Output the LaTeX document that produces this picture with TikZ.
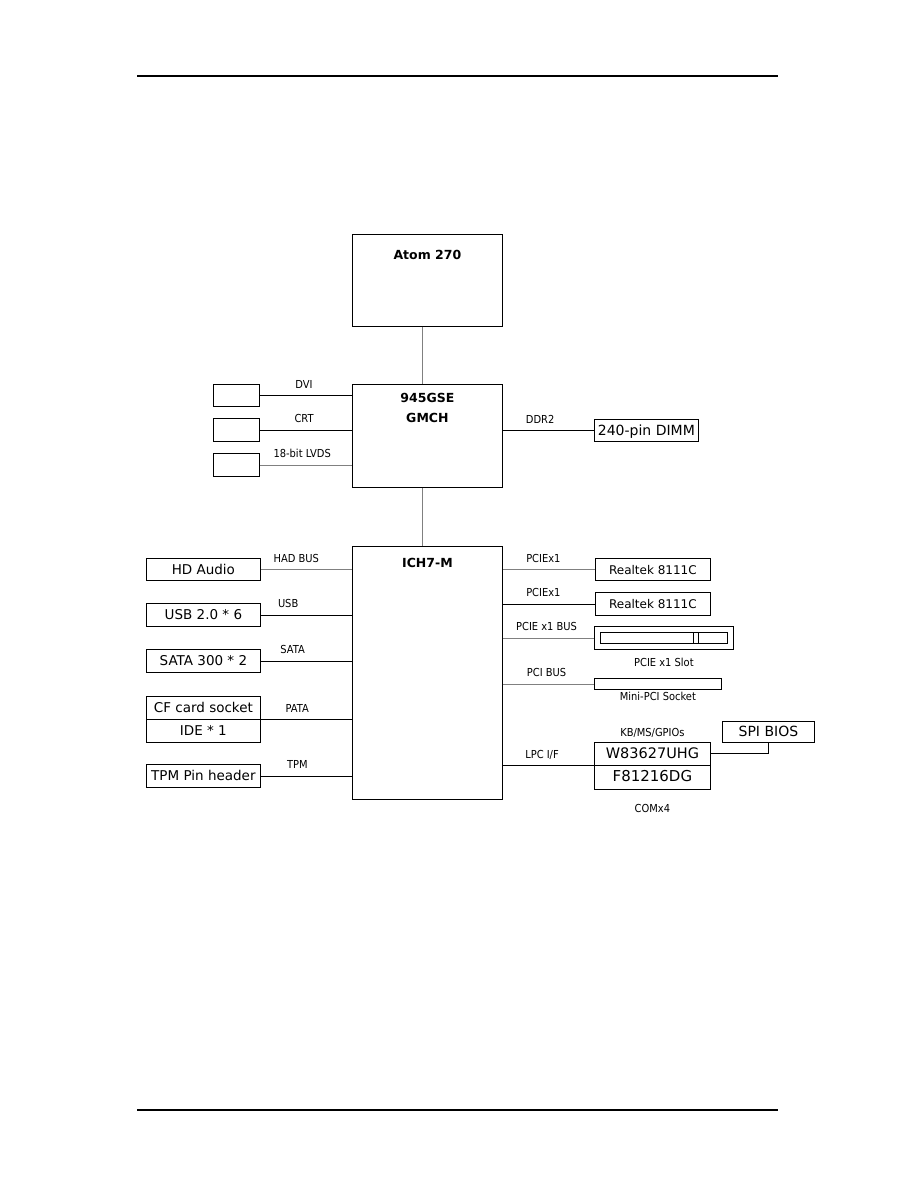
\documentclass[tikz,border=0pt]{standalone}
\usepackage{fontspec}
\setmainfont{DejaVu Sans}
\newfontfamily\narrowfont{DejaVu Sans}[FakeStretch=0.9]
\usetikzlibrary{positioning, calc}

\tikzset{
  box/.style={draw, line width=0.8pt, inner sep=0pt, anchor=north west,
    font=\fontsize{13.5}{16}\selectfont, text height=9.8pt, text depth=0pt},
  title/.style={font=\bfseries\fontsize{12.5}{15}\selectfont, inner sep=0pt,
    text height=9.1pt, text depth=0pt, anchor=north},
  tag/.style={font=\narrowfont\fontsize{11}{13}\selectfont, inner sep=0pt,
    text height=8pt, text depth=0pt, text=black},
  buslbl/.style={tag, anchor=base, yshift=7pt},
  wire/.style={line width=0.8pt, gray},
  link/.style={line width=0.8pt, black}
}

\begin{document}
\begin{tikzpicture}[x=1pt, y=-1pt]
    \useasboundingbox (0,0) rectangle (918,1188);

    % page rules
    \draw[line width=2pt] (137,76.5) -- (778,76.5);
    \draw[line width=2pt] (137,1110) -- (778,1110);

    % chips
    \node[box, minimum width=150pt, minimum height=92pt,
          label={[title, yshift=-16pt]north:Atom 270}] (cpu) at (352,234) {};
    \node[box, minimum width=150pt, minimum height=103pt,
          label={[title, yshift=-9pt]north:945GSE},
          label={[title, yshift=-29pt]north:GMCH}] (gmch) at (352,384) {};
    \node[box, minimum width=150pt, minimum height=253pt,
          label={[title, yshift=-12.5pt]north:ICH7-M}] (ich) at (352,546) {};

    % chip to chip, off centre at x=422
    \coordinate (fsb) at (422,0);
    \draw[wire] (cpu.south -| fsb) -- (gmch.north -| fsb);
    \draw[wire] (gmch.south -| fsb) -- (ich.north -| fsb);

    % display outputs
    \node[box, minimum width=46pt, minimum height=22pt] (dvi)  at (213,384) {};
    \node[box, minimum width=46pt, minimum height=23pt] (crt)  at (213,418) {};
    \node[box, minimum width=46pt, minimum height=23pt] (lvds) at (213,453) {};
    \draw[link] (dvi.east)  -- (dvi.east -| gmch.west)  node[buslbl, pos=.48] {DVI};
    \draw[link] (crt.east)  -- (crt.east -| gmch.west)  node[buslbl, pos=.48] {CRT};
    \draw[wire] (lvds.east) -- (lvds.east -| gmch.west) node[buslbl, pos=.46] {18-bit LVDS};

    % memory
    \node[box, minimum width=104pt, minimum height=22pt,
          font=\fontsize{14}{16}\selectfont] (dimm) at (594,419) {240-pin DIMM};
    \draw[link] (gmch.east |- dimm) -- (dimm.west) node[buslbl, pos=.41] {DDR2};

    % left side of ICH
    \node[box, minimum width=114pt, minimum height=22pt]   (hda)  at (146,558)   {HD Audio};
    \node[box, minimum width=114pt, minimum height=23pt]   (usb)  at (146,603)   {USB 2.0 * 6};
    \node[box, minimum width=114pt, minimum height=23pt]   (sata) at (146,649)   {SATA 300 * 2};
    \node[box, minimum width=114pt, minimum height=22.5pt] (cf)   at (146,696)   {CF card socket};
    \node[box, minimum width=114pt, minimum height=23pt]   (ide)  at (146,718.5) {IDE * 1};
    \node[box, minimum width=114pt, minimum height=23pt]   (tpm)  at (146,764)   {TPM Pin header};
    \draw[wire] (hda.east)  -- (hda.east -| ich.west)  node[buslbl, pos=.39] {HAD BUS};
    \draw[link] (usb.east)  -- (usb.east -| ich.west)  node[buslbl, pos=.30] {USB};
    \draw[link] (sata.east) -- (sata.east -| ich.west) node[buslbl, pos=.35] {SATA};
    \draw[link] (cf.south east) -- (cf.south east -| ich.west) node[buslbl, pos=.40] {PATA};
    \draw[link] (tpm.east)  -- (tpm.east -| ich.west)  node[buslbl, pos=.40] {TPM};

    % right side of ICH
    \node[box, minimum width=115pt, minimum height=22pt,
          font=\fontsize{12}{14}\selectfont] (lan1) at (595,558) {Realtek 8111C};
    \node[box, minimum width=115pt, minimum height=23pt,
          font=\fontsize{12}{14}\selectfont] (lan2) at (595,592) {Realtek 8111C};
    \node[box, minimum width=139pt, minimum height=23pt,
          label={[tag, anchor=north, yshift=-8pt]south:PCIE x1 Slot}] (slot) at (594,626) {};
    \draw[line width=0.8pt] (600,632) rectangle (727,643);
    \draw[line width=0.8pt] (693,632) -- (693,643) (698,632) -- (698,643);
    \node[box, minimum width=127pt, minimum height=11pt,
          label={[tag, anchor=north, yshift=-2.7pt]south:Mini-PCI Socket}] (minipci) at (594,678) {};
    \node[box, minimum width=116pt, minimum height=22.5pt,
          font=\fontsize{14.5}{16}\selectfont,
          label={[tag, anchor=base, yshift=6pt]north:KB/MS/GPIOs}] (sio) at (594,742) {W83627UHG};
    \node[box, minimum width=116pt, minimum height=24pt,
          font=\fontsize{15}{17}\selectfont,
          label={[tag, anchor=north, yshift=-15pt]south:COMx4}] (uart) at (594,764.5) {F81216DG};
    \node[box, minimum width=92pt, minimum height=21pt,
          font=\fontsize{14}{16}\selectfont] (spi) at (722,721) {SPI BIOS};
    \draw[wire] (ich.east |- lan1) -- (lan1.west)    node[buslbl, pos=.44] {PCIEx1};
    \draw[link] (ich.east |- lan2) -- (lan2.west)    node[buslbl, pos=.44] {PCIEx1};
    \draw[wire] (ich.east |- slot) -- (slot.west)    node[buslbl, pos=.48] {PCIE x1 BUS};
    \draw[wire] (ich.east |- minipci) -- (minipci.west) node[buslbl, pos=.48] {PCI BUS};
    \draw[link] (ich.east |- sio.south west) -- (sio.south west) node[buslbl, pos=.43] {LPC I/F};
    \draw[link] (sio.east) -| (spi.south);
\end{tikzpicture}
\end{document}
